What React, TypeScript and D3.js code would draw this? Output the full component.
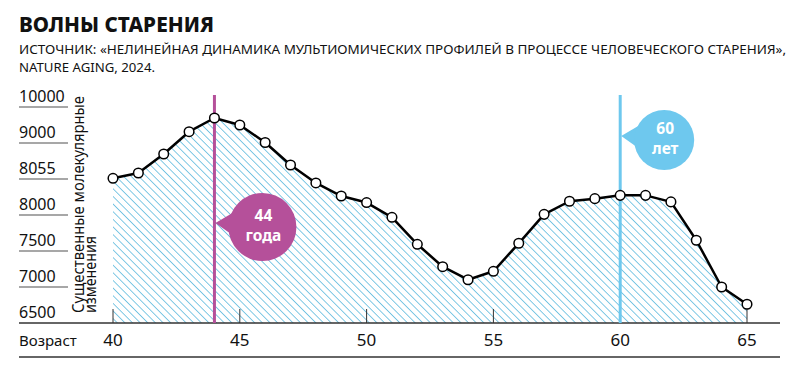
import React from "react";
import * as d3 from "d3";

const ages = [40, 41, 42, 43, 44, 45, 46, 47, 48, 49, 50, 51, 52, 53, 54, 55, 56, 57, 58, 59, 60, 61, 62, 63, 64, 65];
const changes = [8073, 8212, 8711, 9314, 9694, 9500, 9014, 8422, 8049, 8029, 8019, 7968, 7593, 7282, 7101, 7218, 7607, 8001, 8021, 8025, 8030, 8030, 8020, 7649, 7000, 6760];
const yTicks = [6500, 7000, 7500, 8000, 8055, 9000, 10000];
const xTicks = [40, 45, 50, 55, 60, 65];
const peaks = [
  { age: 44, line1: "44", line2: "года", color: "#b5509a", cy: 227, r: 34 },
  { age: 60, line1: "60", line2: "лет", color: "#6ec8ee", cy: 140, r: 30 },
];

const W = 800;
const H = 379;
const FONT = "'Noto Sans', 'DejaVu Sans', sans-serif";

export default function App() {
  const x = d3.scaleLinear().domain([40, 65]).range([113, 747]);
  const base = 323;
  const step = 36;
  const y = d3
    .scaleLinear()
    .domain(yTicks)
    .range(yTicks.map((_, i) => base - i * step));

  const data = ages.map((a, i) => ({ a, v: changes[i] }));
  const area = d3
    .area<{ a: number; v: number }>()
    .x((d) => x(d.a))
    .y0(y(6500))
    .y1((d) => y(d.v))(data) as string;
  const line = d3
    .line<{ a: number; v: number }>()
    .x((d) => x(d.a))
    .y((d) => y(d.v))(data) as string;

  const topY = 95;

  return (
    <svg width={W} height={H} style={{ display: "block", position: "absolute", left: 0, top: 0 }} fontFamily={FONT}>
      <defs>
        <pattern id="hatch" patternUnits="userSpaceOnUse" width={5.4} height={5.4} patternTransform="rotate(-45)">
          <line x1={0} y1={0} x2={0} y2={5.4} stroke="#72c3e2" strokeWidth={1.8} />
        </pattern>
      </defs>
      <rect width={W} height={H} fill="#fff" />

      <text x={19} y={32} fontSize={21} fontWeight={800} fill="#111" textLength={195} lengthAdjust="spacingAndGlyphs">
        ВОЛНЫ СТАРЕНИЯ
      </text>
      <text x={19} y={54} fontSize={12.5} fill="#111" textLength={767} lengthAdjust="spacingAndGlyphs">
        ИСТОЧНИК: «НЕЛИНЕЙНАЯ ДИНАМИКА МУЛЬТИОМИЧЕСКИХ ПРОФИЛЕЙ В ПРОЦЕССЕ ЧЕЛОВЕЧЕСКОГО СТАРЕНИЯ»,
      </text>
      <text x={19} y={72} fontSize={12.5} fill="#111" textLength={136} lengthAdjust="spacingAndGlyphs">
        NATURE AGING, 2024.
      </text>

      {/* area */}
      <path d={area} fill="url(#hatch)" />

      {/* y ticks */}
      {yTicks.map((t) => (
        <g key={t}>
          {t !== 6500 && <line x1={19} x2={68} y1={y(t)} y2={y(t)} stroke="#8a8a8a" strokeWidth={1.5} />}
          <text x={19} y={y(t) - 5} fontSize={16} fill="#111">
            {t}
          </text>
        </g>
      ))}

      {/* y title */}
      <text transform={`translate(84,313) rotate(-90)`} fontSize={16} fill="#111" textLength={217} lengthAdjust="spacingAndGlyphs">
        Существенные молекулярные
      </text>
      <text transform={`translate(96,313) rotate(-90)`} fontSize={16} fill="#111" textLength={77} lengthAdjust="spacingAndGlyphs">
        изменения
      </text>

      {/* x ticks */}
      {xTicks.map((t) => (
        <g key={t}>
          <line x1={x(t)} x2={x(t)} y1={base - 14} y2={base} stroke="#333" strokeWidth={1} />
          <text x={x(t)} y={346} fontSize={17} textAnchor="middle" fill="#111">
            {t}
          </text>
        </g>
      ))}
      <text x={19} y={346} fontSize={15} fill="#111">
        Возраст
      </text>

      {/* axis lines */}
      <line x1={19} x2={780} y1={base} y2={base} stroke="#333" strokeWidth={1.5} />
      <line x1={19} x2={780} y1={357} y2={357} stroke="#333" strokeWidth={1.5} />

      {/* reference lines */}
      {peaks.map((p) => (
        <line key={p.age} x1={x(p.age)} x2={x(p.age)} y1={topY} y2={base} stroke={p.color} strokeWidth={3} />
      ))}

      {/* line and points */}
      <path d={line} fill="none" stroke="#000" strokeWidth={2.5} strokeLinejoin="round" />
      {data.map((d) => (
        <circle key={d.a} cx={x(d.a)} cy={y(d.v)} r={4.8} fill="#fff" stroke="#000" strokeWidth={1.5} />
      ))}

      {/* callouts */}
      {peaks.map((p) => {
        const lx = x(p.age);
        const cx = lx + 14 + p.r;
        const tipX = lx + 1;
        const tipY = p.cy - 4;
        return (
          <g key={"c" + p.age}>
            <path
              d={`M${tipX},${tipY} L${cx - p.r + 4},${p.cy - 14} L${cx - p.r + 4},${p.cy + 8} Z`}
              fill={p.color}
            />
            <circle cx={cx} cy={p.cy} r={p.r} fill={p.color} />
            <text x={cx + 1} y={p.cy - 6} fontSize={15.5} fontWeight={700} fill="#fff" textAnchor="middle">
              {p.line1}
            </text>
            <text x={cx + 1} y={p.cy + 14} fontSize={15.5} fontWeight={700} fill="#fff" textAnchor="middle">
              {p.line2}
            </text>
          </g>
        );
      })}
    </svg>
  );
}
